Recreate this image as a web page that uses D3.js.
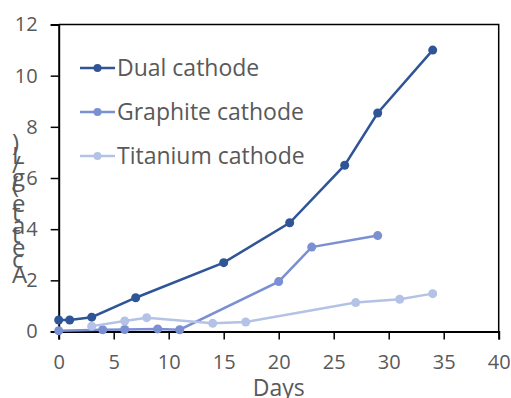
<!DOCTYPE html>
<html><head><meta charset="utf-8">
<script src="https://cdn.jsdelivr.net/npm/d3@7"></script>
<style>body{margin:0;background:#fff}svg{display:block}text{font-family:"Open Sans",sans-serif;fill:#595959}</style>
</head><body><svg id="c" width="511" height="398"></svg>
<script>
const seriesNames = ["Dual cathode", "Graphite cathode", "Titanium cathode"];
const dualDays = [0, 1, 3, 7, 15, 21, 26, 29, 34];
const dualVals = [0.45, 0.45, 0.56, 1.32, 2.69, 4.25, 6.5, 8.54, 11.0];
const graphiteDays = [0, 4, 6, 9, 11, 20, 23, 29];
const graphiteVals = [0.03, 0.07, 0.08, 0.1, 0.07, 1.95, 3.3, 3.75];
const titaniumDays = [3, 6, 8, 14, 17, 27, 31, 34];
const titaniumVals = [0.21, 0.41, 0.54, 0.32, 0.37, 1.13, 1.26, 1.48];
const xTicks = [0, 5, 10, 15, 20, 25, 30, 35, 40];
const yTicks = [0, 2, 4, 6, 8, 10, 12];
const colors = ["#2F5597", "#7A90D3", "#B4C2E6"];

const svg = d3.select("#c");
const L = 58.7, R = 498.7, T = 24.5, B = 331.5;
const x = d3.scaleLinear().domain([0, 40]).range([L, R]);
const y = d3.scaleLinear().domain([0, 12]).range([B, T]);

svg.append("path").attr("d", `M${L},${T}H${R}V${B}`).attr("fill","none").attr("stroke","#000").attr("stroke-width",1.5);

const xa = svg.append("g").attr("transform", `translate(0,${B})`)
  .call(d3.axisBottom(x).tickValues(xTicks).tickSize(8).tickPadding(15));
const ya = svg.append("g").attr("transform", `translate(${L},0)`)
  .call(d3.axisLeft(y).tickValues(yTicks).tickSize(8).tickPadding(13));
[xa, ya].forEach(a => {
  a.select(".domain").attr("stroke","#000").attr("stroke-width",2);
  a.selectAll(".tick line").attr("stroke","#000").attr("stroke-width",1.5);
  a.selectAll(".tick text").attr("font-size",20).attr("fill","#595959").style("font-family","'Open Sans',sans-serif");
});

svg.append("text").attr("x", (L+R)/2).attr("y", 396).attr("text-anchor","middle")
  .attr("font-size",23).text("Days");

const ylab = "Acetate (g/L)";
svg.append("text").attr("transform","translate(12,283) rotate(-90)")
  .attr("x",0).attr("y",0).attr("font-size",24)
  .attr("rotate", Array.from(ylab).map(()=>90).join(" "))
  .text(ylab);

const data = [
  dualDays.map((d,i)=>[d, dualVals[i]]),
  graphiteDays.map((d,i)=>[d, graphiteVals[i]]),
  titaniumDays.map((d,i)=>[d, titaniumVals[i]])
];
const line = d3.line().x(d=>x(d[0])).y(d=>y(d[1]));
data.forEach((s,k)=>{
  const g = svg.append("g");
  g.append("path").attr("d", line(s)).attr("fill","none").attr("stroke",colors[k]).attr("stroke-width",2.5);
  g.selectAll("circle").data(s).join("circle").attr("cx",d=>x(d[0])).attr("cy",d=>y(d[1])).attr("r",4.5).attr("fill",colors[k]);
});

seriesNames.forEach((n,k)=>{
  const yy = 68 + k*44;
  svg.append("line").attr("x1",80).attr("x2",115).attr("y1",yy).attr("y2",yy).attr("stroke",colors[k]).attr("stroke-width",2.5);
  svg.append("circle").attr("cx",97.5).attr("cy",yy).attr("r",4).attr("fill",colors[k]);
  svg.append("text").attr("x",117).attr("y",yy).attr("dy","0.36em").attr("font-size",23).text(n);
});
</script></body></html>
